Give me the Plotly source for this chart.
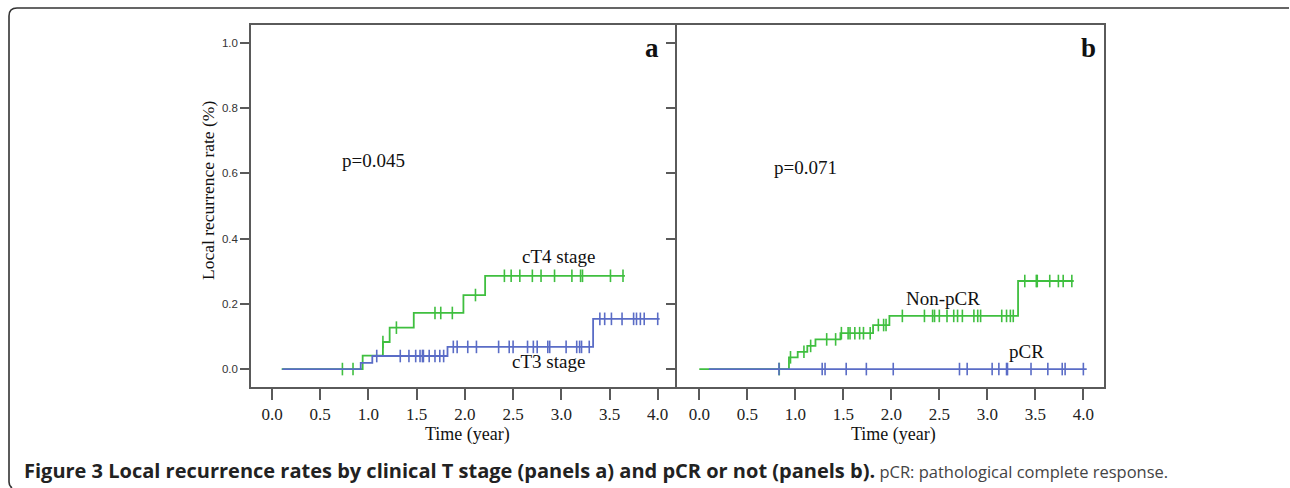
import numpy as np
import plotly.graph_objects as go

W, H = 1290, 488

# ---------------- data ----------------
# Panel a: cT4 stage (green)
ct4_step_t = [0.10, 0.94, 1.15, 1.22, 1.47, 1.985, 2.21, 3.66]
ct4_step_y = [0.0, 0.041, 0.083, 0.127, 0.172, 0.227, 0.286, 0.286]
ct4_cens_t = [0.73, 0.84, 1.15, 1.29, 1.69, 1.75, 1.87, 2.11, 2.41, 2.48, 2.57,
              2.70, 2.79, 2.93, 3.11, 3.20, 3.22, 3.51, 3.64]
# Panel a: cT3 stage (blue)
ct3_step_t = [0.107, 0.92, 1.04, 1.82, 3.33, 4.02]
ct3_step_y = [0.0, 0.019, 0.040, 0.068, 0.154, 0.154]
ct3_cens_t = [1.086, 1.33, 1.42, 1.49, 1.535, 1.56, 1.57, 1.63, 1.69, 1.74, 1.78,
              1.88, 1.92, 2.03, 2.12, 2.35, 2.46, 2.50, 2.65, 2.71, 2.75, 2.86,
              2.88, 3.05, 3.16, 3.19, 3.21, 3.29, 3.40, 3.45, 3.52, 3.63, 3.75,
              3.78, 3.82, 3.86, 4.00]
# Panel b: Non-pCR (green)
npcr_step_t = [0.0, 0.934, 1.025, 1.125, 1.21, 1.47, 1.81, 1.98, 3.32, 3.90]
npcr_step_y = [0.0, 0.036, 0.053, 0.071, 0.091, 0.110, 0.135, 0.163, 0.270, 0.270]
npcr_cens_t = [0.833, 0.95, 1.09, 1.16, 1.327, 1.42, 1.48, 1.55, 1.57, 1.62, 1.67,
               1.71, 1.78, 1.865, 1.92, 1.945, 2.115, 2.345, 2.43, 2.45, 2.50,
               2.58, 2.65, 2.69, 2.74, 2.86, 2.90, 2.93, 3.15, 3.20, 3.24, 3.27,
               3.39, 3.51, 3.52, 3.65, 3.74, 3.79, 3.88]
# Panel b: pCR (blue)
pcr_step_t = [0.10, 4.035]
pcr_step_y = [0.0, 0.0]
pcr_cens_t = [0.83, 1.28, 1.31, 1.53, 1.74, 2.02, 2.71, 2.79, 3.05, 3.12, 3.20,
              3.21, 3.455, 3.63, 3.78, 3.81, 4.00]

x_ticks = [0.0, 0.5, 1.0, 1.5, 2.0, 2.5, 3.0, 3.5, 4.0]
y_ticks = [0.0, 0.2, 0.4, 0.6, 0.8, 1.0]

GREEN = "#3fbf3f"
BLUE = "#5a6cc6"
AXIS = "#5a5a5a"
SERIF = "Liberation Serif, Times New Roman, serif"
SANS = "Liberation Sans, Arial, sans-serif"


def step_value(t_steps, y_steps, t):
    idx = np.searchsorted(np.array(t_steps), np.array(t), side="right") - 1
    idx = np.clip(idx, 0, len(y_steps) - 1)
    return [y_steps[i] for i in idx]


fig = go.Figure()


def add_curve(t_steps, y_steps, cens_t, color, xa, ya):
    fig.add_trace(go.Scatter(x=t_steps, y=y_steps, mode="lines",
                             line=dict(color=color, width=1.8, shape="hv"),
                             xaxis=xa, yaxis=ya, hoverinfo="skip"))
    fig.add_trace(go.Scatter(x=cens_t, y=step_value(t_steps, y_steps, cens_t),
                             mode="markers",
                             marker=dict(symbol="line-ns-open", size=9, color=color,
                                         line=dict(color=color, width=1.6)),
                             xaxis=xa, yaxis=ya, hoverinfo="skip"))


add_curve(ct4_step_t, ct4_step_y, ct4_cens_t, GREEN, "x", "y")
add_curve(ct3_step_t, ct3_step_y, ct3_cens_t, BLUE, "x", "y")
add_curve(npcr_step_t, npcr_step_y, npcr_cens_t, GREEN, "x2", "y2")
add_curve(pcr_step_t, pcr_step_y, pcr_cens_t, BLUE, "x2", "y2")


def px(x):
    return x / W


def py(y):
    return 1 - y / H


ydom = [py(387), py(25)]
xaxis_common = dict(showline=True, mirror=True, linecolor=AXIS, linewidth=1.6,
                    showgrid=False, zeroline=False, ticks="outside", ticklen=11,
                    tickwidth=2, tickcolor=AXIS, tickvals=x_ticks,
                    ticktext=[f"{v:.1f}" for v in x_ticks],
                    tickfont=dict(family=SERIF, size=17, color="#222"))
yaxis_common = dict(showline=True, linecolor=AXIS, linewidth=1.6,
                    showgrid=False, zeroline=False, ticks="outside", ticklen=9,
                    tickwidth=1.5, tickcolor=AXIS, tickvals=y_ticks,
                    range=[-0.055, 1.055], domain=ydom)

fig.update_layout(
    width=W, height=H, margin=dict(l=0, r=0, t=0, b=0),
    paper_bgcolor="white", plot_bgcolor="white", showlegend=False,
    xaxis=dict(**xaxis_common, domain=[px(251), px(677)], range=[-0.218, 4.2],
               anchor="y"),
    yaxis=dict(**yaxis_common, anchor="x", mirror=False,
               ticktext=[f"{v:.1f}" for v in y_ticks],
               tickfont=dict(family=SANS, size=11.5, color="#333")),
    xaxis2=dict(**xaxis_common, domain=[px(677), px(1104)], range=[-0.232, 4.215],
                anchor="y2"),
    yaxis2=dict(**yaxis_common, anchor="x2", mirror=True, showticklabels=False),
)

ann = []


def txt(x, y, text, xref, yref, size=19, bold=False, **kw):
    ann.append(dict(x=x, y=y, xref=xref, yref=yref,
                    text=f"<b>{text}</b>" if bold else text,
                    showarrow=False, xanchor="center", yanchor="middle",
                    font=dict(family=SERIF, size=size, color="#111"), **kw))


txt(1.05, 0.64, "p=0.045", "x", "y")
txt(2.97, 0.344, "cT4 stage", "x", "y")
txt(2.87, 0.022, "cT3 stage", "x", "y")
txt(3.94, 0.985, "a", "x", "y", size=27, bold=True)
txt(1.11, 0.617, "p=0.071", "x2", "y2")
txt(2.54, 0.217, "Non-pCR", "x2", "y2")
txt(3.41, 0.053, "pCR", "x2", "y2")
txt(4.05, 0.985, "b", "x2", "y2", size=27, bold=True)
# axis titles
txt(px(467), py(434), "Time (year)", "paper", "paper", size=18)
txt(px(893), py(434), "Time (year)", "paper", "paper", size=18)
txt(px(208), py(191), "Local recurrence rate (%)", "paper", "paper", size=17.5,
    textangle=-90)
# caption
ann.append(dict(x=px(22), y=py(470), xref="paper", yref="paper", xanchor="left",
                yanchor="middle", showarrow=False,
                text="<b>Figure 3 Local recurrence rates by clinical T stage (panels a) and pCR or not (panels b).</b>"
                     "<span style='color:#444;font-size:16.5px'> pCR: pathological complete response.</span>",
                font=dict(family="Open Sans, sans-serif", size=20, color="#222")))
fig.update_layout(annotations=ann)

# outer rounded frame (top and left edges)
frame_path = (f"M {px(1289)},{py(8)} L {px(17)},{py(8)} "
              f"Q {px(9)},{py(8)} {px(9)},{py(16)} L {px(9)},{py(482)} "
              f"Q {px(9)},{py(486)} {px(12)},{py(488)}")
fig.add_shape(type="path", path=frame_path, xref="paper", yref="paper",
              line=dict(color="#333", width=1.6))

fig.write_html("out.html")
